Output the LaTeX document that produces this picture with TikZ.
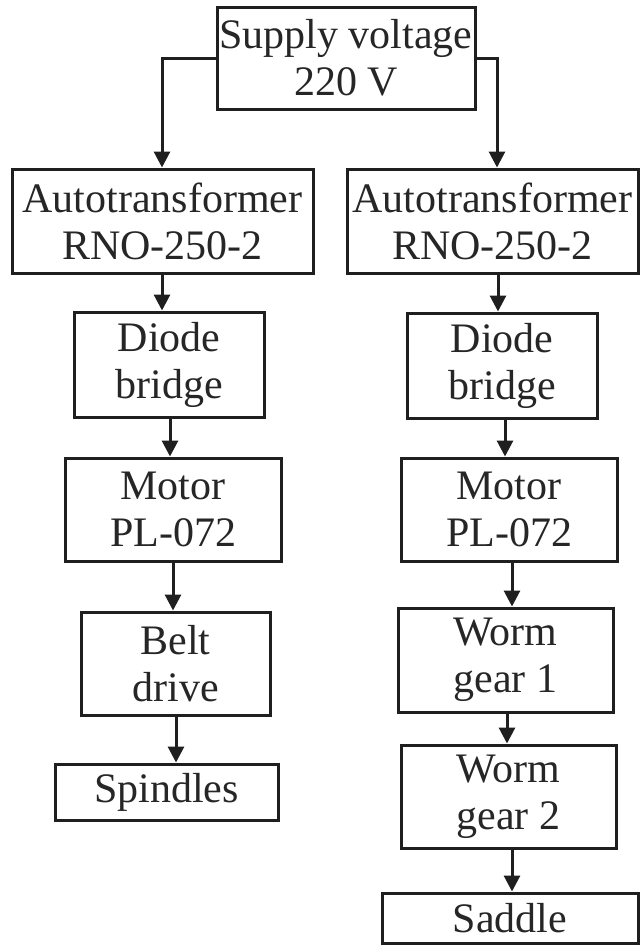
\documentclass[tikz,border=0pt]{standalone}
\usepackage{fontspec}
\setmainfont{Liberation Serif}
\usetikzlibrary{arrows.meta,calc}
\begin{document}
\begin{tikzpicture}[x=1pt,y=-1pt,
  blk/.style={draw=black!88,line width=3pt,inner sep=0pt,align=center,
    font=\fontsize{42}{47}\selectfont,text=black!85},
  arr/.style={draw=black!88,line width=3pt,-{Triangle[width=16pt,length=16pt]}}]
\useasboundingbox (0,0) rectangle (640,945);
\node[blk,minimum width=258pt,minimum height=102pt] (top) at (346,58) {Supply voltage\\220 V};
\node[blk,minimum width=301pt,minimum height=104pt] (la) at (162.5,221) {Autotransformer\\RNO-250-2};
\node[blk,minimum width=291pt,minimum height=104pt] (ra) at (492.5,221) {Autotransformer\\RNO-250-2};
\node[blk,minimum width=190pt,minimum height=105pt] (ld) at (169,364.5) {Diode\\bridge};
\node[blk,minimum width=190pt,minimum height=105pt] (rd) at (502,365.5) {Diode\\bridge};
\node[blk,minimum width=216pt,minimum height=103pt] (lm) at (173,509.5) {Motor\\PL-072};
\node[blk,minimum width=216pt,minimum height=103pt] (rm) at (509,509.5) {Motor\\PL-072};
\node[blk,minimum width=189pt,minimum height=103pt] (lb) at (175.5,663.5) {Belt\\drive};
\node[blk,minimum width=215pt,minimum height=104pt] (rw1) at (505.5,660) {Worm\\gear 1};
\node[blk,minimum width=223pt,minimum height=56pt] (ls) at (166.5,792) {Spindles};
\node[blk,minimum width=215pt,minimum height=103pt] (rw2) at (508.5,796.5) {Worm\\gear 2};
\node[blk,minimum width=256pt,minimum height=50pt] (rs) at (510,918) {Saddle};
% connector columns
\coordinate (xl0) at (162,0);
\coordinate (xr0) at (497,0);
\coordinate (xl1) at (162,0);
\coordinate (xl2) at (170,0);
\coordinate (xl3) at (173,0);
\coordinate (xl4) at (176,0);
\coordinate (xr1) at (498,0);
\coordinate (xr2) at (505,0);
\coordinate (xr3) at (512,0);
\coordinate (xr4) at (507,0);
\coordinate (xr5) at (512,0);
\draw[arr] (top.west) -| (la.north -| xl0);
\draw[arr] (top.east) -| (ra.north -| xr0);
\draw[arr] (la.south -| xl1) -- (ld.north -| xl1);
\draw[arr] (ld.south -| xl2) -- (lm.north -| xl2);
\draw[arr] (lm.south -| xl3) -- (lb.north -| xl3);
\draw[arr] (lb.south -| xl4) -- (ls.north -| xl4);
\draw[arr] (ra.south -| xr1) -- (rd.north -| xr1);
\draw[arr] (rd.south -| xr2) -- (rm.north -| xr2);
\draw[arr] (rm.south -| xr3) -- (rw1.north -| xr3);
\draw[arr] (rw1.south -| xr4) -- (rw2.north -| xr4);
\draw[arr] (rw2.south -| xr5) -- (rs.north -| xr5);
\end{tikzpicture}
\end{document}
